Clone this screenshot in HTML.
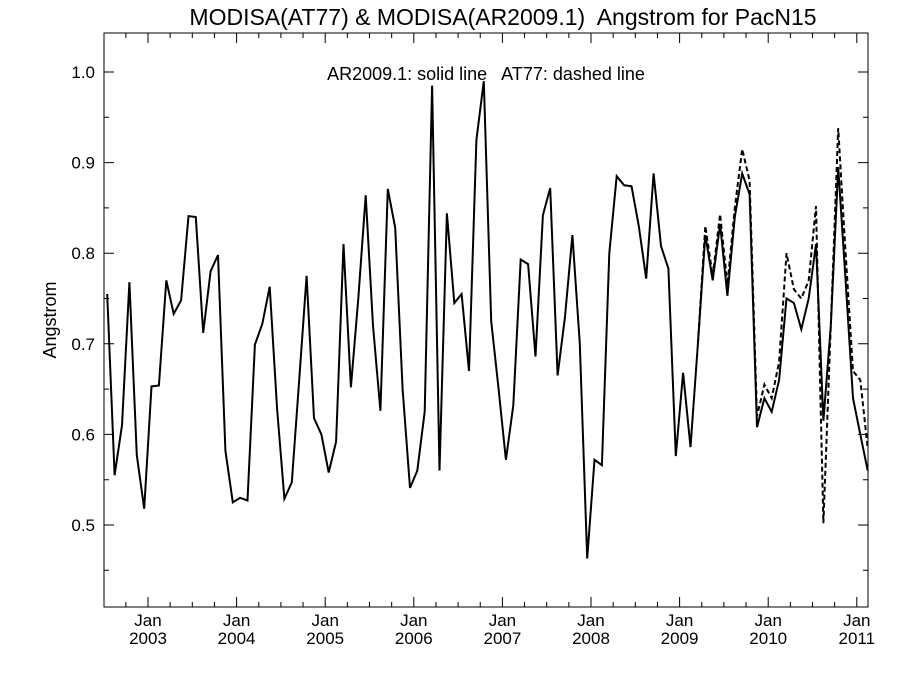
<!DOCTYPE html>
<html><head><meta charset="utf-8"><style>
body{margin:0;background:#fff}
svg text{font-family:"Liberation Sans",sans-serif;fill:#000;white-space:pre}
</style></head><body>
<svg id="chart" width="900" height="675" viewBox="0 0 900 675">
<text x="503" y="25" font-size="23" text-anchor="middle" xml:space="preserve">MODISA(AT77) &amp; MODISA(AR2009.1)  Angstrom for PacN15</text>
<text x="486" y="80" font-size="18" text-anchor="middle" xml:space="preserve">AR2009.1: solid line   AT77: dashed line</text>
<text transform="translate(56,320) rotate(-90)" font-size="18" text-anchor="middle">Angstrom</text>
<rect x="104" y="33" width="764" height="574" fill="none" stroke="#000" stroke-width="1"/>
<g id="axes"></g>
<g id="series"></g>
</svg>
<script>
const yTicks=[0.5,0.6,0.7,0.8,0.9,1.0];
const yTickLabels=["0.5","0.6","0.7","0.8","0.9","1.0"];
const xTickYears=[2003,2004,2005,2006,2007,2008,2009,2010,2011];
const solidStart=2002.54;
const solidValues=[0.755,0.555,0.61,0.768,0.577,0.518,0.653,0.654,0.77,0.733,0.748,0.841,0.84,0.712,0.78,0.798,0.582,0.525,0.53,0.527,0.699,0.722,0.763,0.628,0.529,0.547,0.66,0.775,0.618,0.6,0.558,0.592,0.81,0.652,0.75,0.864,0.72,0.626,0.871,0.828,0.65,0.541,0.56,0.625,0.985,0.56,0.844,0.745,0.755,0.67,0.925,0.99,0.725,0.65,0.572,0.632,0.793,0.788,0.686,0.842,0.872,0.665,0.73,0.82,0.7,0.463,0.572,0.566,0.8,0.885,0.875,0.874,0.83,0.772,0.888,0.808,0.783,0.576,0.668,0.586,0.7,0.82,0.77,0.832,0.753,0.84,0.888,0.865,0.608,0.64,0.625,0.66,0.75,0.745,0.716,0.75,0.81,0.615,0.72,0.895,0.77,0.64,0.6,0.56];
const dashedStart=2009.2067;
const dashedValues=[0.7,0.83,0.775,0.843,0.765,0.85,0.915,0.88,0.62,0.655,0.64,0.68,0.8,0.76,0.75,0.77,0.852,0.502,0.72,0.938,0.8,0.67,0.66,0.585];
const X0=104,X1=868,Y0=33,Y1=607;
const xs=t=>148+(t-2003)*88.6;
const ys=v=>525-(v-0.5)*906;
const NS="http://www.w3.org/2000/svg";
const axes=document.getElementById('axes'),series=document.getElementById('series');
function mk(tag,attrs,parent){const e=document.createElementNS(NS,tag);for(const k in attrs)e.setAttribute(k,attrs[k]);parent.appendChild(e);return e;}
yTicks.forEach((v,i)=>{const y=ys(v);
 const l=mk('path',{d:`M${X0} ${y}h10M${X1} ${y}h-10`,stroke:'#000'},axes);
 
 
 const t=mk('text',{x:95,y:y+6,'font-size':17,'text-anchor':'end'},axes);t.textContent=yTickLabels[i];
 
 
 if(v+0.05<1.04){const yy=ys(v+0.05);mk('path',{d:`M${X0} ${yy}h5M${X1} ${yy}h-5`,stroke:'#000'},axes);}
});
[0.45].forEach(v=>{const yy=ys(v);mk('path',{d:`M${X0} ${yy}h5M${X1} ${yy}h-5`,stroke:'#000'},axes);});
xTickYears.forEach(yr=>{const x=xs(yr);
 const l=mk('path',{d:`M${x} ${Y1}v-10M${x} ${Y0}v10`,stroke:'#000'},axes);
 
 
 const t=mk('text',{x:x,y:626,'font-size':17,'text-anchor':'middle'},axes);t.textContent='Jan';
 
 
 const t2=mk('text',{x:x,y:644,'font-size':17,'text-anchor':'middle'},axes);t2.textContent=String(yr);
 
 
 for(let q=1;q<4;q++){const xx=xs(yr-q/4);if(xx>X0)mk('path',{d:`M${xx} ${Y1}v-5M${xx} ${Y0}v5`,stroke:'#000'},axes);}
});
function line(start,vals,dash,name){
 const pts=vals.map((v,i)=>`${Math.min(X1,xs(start+i/12)).toFixed(1)},${ys(v).toFixed(1)}`).join(' ');
 const p=mk('polyline',{points:pts,fill:'none',stroke:'#000','stroke-width':2,'stroke-dasharray':dash},series);
 
 
}
line(dashedStart,dashedValues,'5,3','at77-dashed-line');
line(solidStart,solidValues,'none','ar2009-solid-line');
</script>
</body></html>
